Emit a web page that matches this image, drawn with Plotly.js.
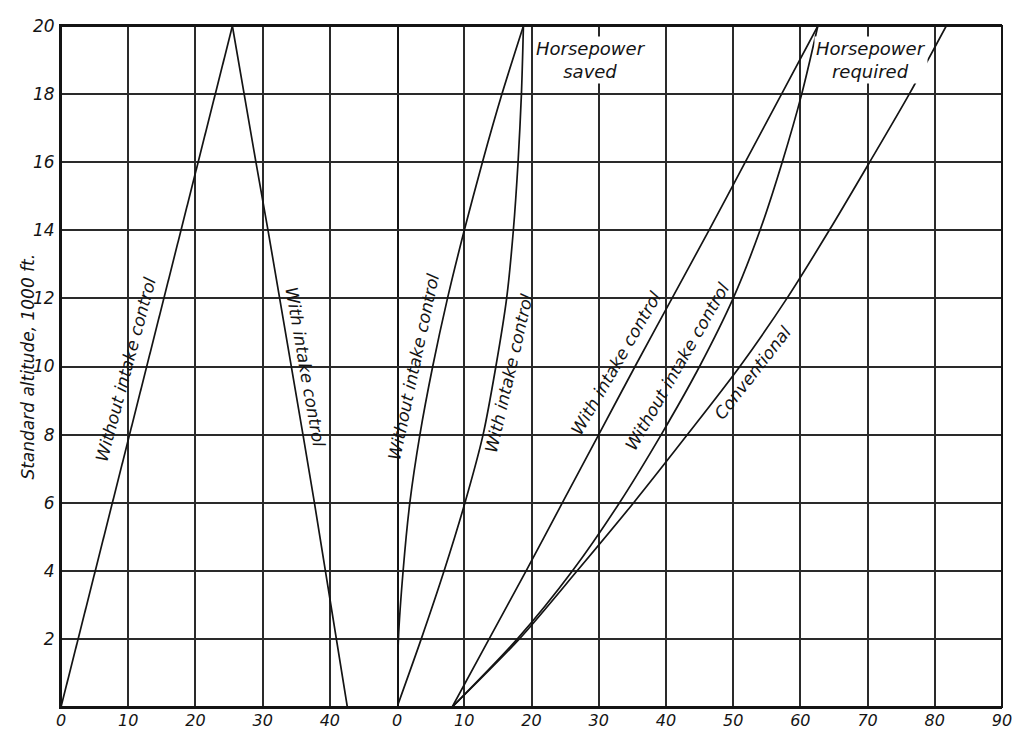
<!DOCTYPE html>
<html><head><meta charset="utf-8">
<script src="https://cdn.plot.ly/plotly-3.0.1.min.js"></script>
<style>html,body{margin:0;padding:0;background:#fff}#chart{width:1024px;height:731px}</style>
</head><body><div id="chart"></div>
<script>
// Standard altitude, 1000 ft.
const altitude = [0, 2, 4, 6, 8, 10, 12, 14, 16, 18, 20];

// Left panel
const leftWithoutX = [0, 25.5];
const leftWithoutY = [0, 20];
const leftWithX = [42.6, 41.0, 39.4, 37.7, 36.0, 34.3, 32.6, 30.8, 29.0, 27.3, 25.5];

// Horsepower saved
const savedWithout = [0, 0.2, 0.9, 1.9, 3.4, 5.3, 7.5, 10.0, 12.7, 15.6, 18.8];
const savedWith = [0, 3.6, 7.0, 10.1, 12.8, 14.7, 16.3, 17.3, 18.0, 18.5, 18.8];

// Horsepower required
const reqWith = [8.2, 13.7, 19.2, 24.6, 30.0, 35.4, 40.9, 46.4, 51.8, 57.2, 62.6];
const reqWithout = [8.2, 17.9, 26.1, 33.1, 39.3, 45.0, 50.0, 54.0, 57.3, 60.2, 62.6];
const reqConventional = [8.2, 18.2, 26.8, 35.2, 43.2, 51.0, 58.0, 64.3, 70.3, 76.2, 81.7];

// Tick labels
const leftTicks = [0, 10, 20, 30, 40];
const rightTicks = [0, 10, 20, 30, 40, 50, 60, 70, 80, 90];
const yTicks = [2, 4, 6, 8, 10, 12, 14, 16, 18, 20];

const INK = '#141414';
const TICKFONT = {family: 'DejaVu Sans', size: 16, color: INK, style: 'italic'};
const LABELFONT = {family: 'DejaVu Sans', size: 17, color: INK, style: 'italic'};
const lineStyle = {color: INK, width: 1.7};
const curveStyle = {color: INK, width: 1.7, shape: 'spline', smoothing: 0.8};

const traces = [
  {x: leftWithoutX, y: leftWithoutY, xaxis: 'x', yaxis: 'y', mode: 'lines', line: lineStyle, name: 'Without intake control'},
  {x: leftWithX, y: altitude, xaxis: 'x', yaxis: 'y', mode: 'lines', line: lineStyle, name: 'With intake control'},
  {x: savedWithout, y: altitude, xaxis: 'x2', yaxis: 'y', mode: 'lines', line: curveStyle, name: 'Saved, without intake control'},
  {x: savedWith, y: altitude, xaxis: 'x2', yaxis: 'y', mode: 'lines', line: curveStyle, name: 'Saved, with intake control'},
  {x: reqWith, y: altitude, xaxis: 'x2', yaxis: 'y', mode: 'lines', line: curveStyle, name: 'Required, with intake control'},
  {x: reqWithout, y: altitude, xaxis: 'x2', yaxis: 'y', mode: 'lines', line: curveStyle, name: 'Required, without intake control'},
  {x: reqConventional, y: altitude, xaxis: 'x2', yaxis: 'y', mode: 'lines', line: curveStyle, name: 'Conventional'}
];

const axisCommon = {
  showgrid: true, gridcolor: '#2a2a2a', gridwidth: 2, zeroline: false,
  showline: true, linecolor: INK, linewidth: 2, mirror: true,
  ticks: '', tickfont: TICKFONT, automargin: false, fixedrange: true
};

const label = (text, xref, x, y, angle, extra) => Object.assign({
  text: text, xref: xref, yref: 'y', x: x, y: y, textangle: angle,
  showarrow: false, font: LABELFONT, xanchor: 'center', yanchor: 'middle'
}, extra || {});

const layout = {
  width: 1024, height: 731,
  margin: {l: 61, r: 22, t: 26, b: 24},
  paper_bgcolor: '#fff', plot_bgcolor: '#fff',
  showlegend: false,
  xaxis: Object.assign({}, axisCommon, {domain: [0, 5/14], range: [0, 50], tickvals: leftTicks, ticktext: leftTicks.map(String), anchor: 'y', ticklabelstandoff: -2}),
  xaxis2: Object.assign({}, axisCommon, {domain: [5/14, 1], range: [0, 90], tickvals: rightTicks, ticktext: rightTicks.map(String), anchor: 'y', ticklabelstandoff: -2}),
  yaxis: Object.assign({}, axisCommon, {range: [0, 20], tickvals: yTicks, ticktext: yTicks.map(String), anchor: 'x', ticklabelstandoff: 1,
    tickfont: Object.assign({}, TICKFONT, {size: 17})}),
  shapes: [
    {type: 'rect', xref: 'paper', yref: 'paper', x0: 0, x1: 1, y0: 0, y1: 1, line: {color: INK, width: 2}}
  ],
  annotations: [
    {text: 'Standard altitude, 1000 ft.', xref: 'paper', yref: 'paper', x: -0.036, y: 0.5, textangle: -90,
     showarrow: false, font: LABELFONT, xanchor: 'center', yanchor: 'middle'},
    label('Without intake control', 'x', 9.6, 9.9, -75),
    label('With intake control', 'x', 36.4, 10.0, 80),
    label('Without intake control', 'x2', 2.4, 10.0, -78),
    label('With intake control', 'x2', 16.7, 9.8, -77),
    label('Horsepower<br>saved', 'x2', 28.8, 19.0, 0, {font: Object.assign({}, LABELFONT, {size: 18}), bgcolor: '#fff'}),
    label('Horsepower<br>required', 'x2', 70.5, 19.0, 0, {font: Object.assign({}, LABELFONT, {size: 18}), bgcolor: '#fff'}),
    label('With intake control', 'x2', 32.6, 10.1, -60),
    label('Without intake control', 'x2', 41.6, 10.0, -60),
    label('Conventional', 'x2', 52.9, 9.8, -52)
  ]
};

Plotly.newPlot('chart', traces, layout, {displayModeBar: false});
</script>
</body></html>
